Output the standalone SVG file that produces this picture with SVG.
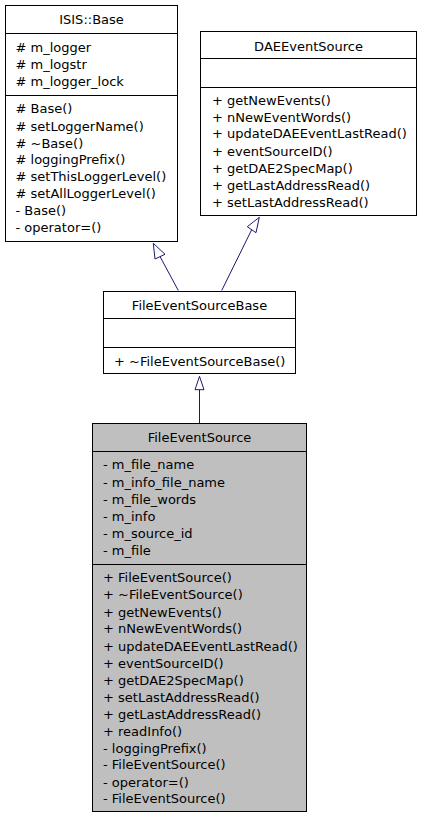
<svg xmlns="http://www.w3.org/2000/svg" width="422" height="819" viewBox="0 0 422 819">
<style>
.box{fill:#ffffff;stroke:#000000;stroke-width:1}
.cur{fill:#bfbfbf;stroke:#000000;stroke-width:1}
.sep{stroke:#000000;stroke-width:1}
text{font-family:"DejaVu Sans",sans-serif;font-size:13px;fill:#000000}
.t{text-anchor:middle}
.edge{stroke:#191970;stroke-width:1;fill:none}
.head{stroke:#191970;stroke-width:1;fill:#ffffff}
</style>
<rect width="422" height="819" fill="#ffffff"/>
<g id="connectors">
<path class="edge" d="M178.3,290.5 L160,256.5"/>
<polygon class="head" points="153.3,243.3 155,259 165,254.3"/>
<path class="edge" d="M221.7,290.5 L251.7,229.7"/>
<polygon class="head" points="259.3,217.3 247.3,226.7 256,232.7"/>
<path class="edge" d="M199.5,423 L199.5,389.7"/>
<polygon class="head" points="199.5,376.3 195,389.7 204,389.7"/>
</g>
<g id="node-isis-base">
<rect class="box" x="5.5" y="5.5" width="172" height="236"/>
<line class="sep" x1="5.5" y1="33.5" x2="177.5" y2="33.5"/>
<line class="sep" x1="5.5" y1="95.5" x2="177.5" y2="95.5"/>
<text class="t" x="91.5" y="24">ISIS::Base</text>
<text x="15.5" y="52">#&#160;m_logger</text>
<text x="15.5" y="69">#&#160;m_logstr</text>
<text x="15.5" y="86">#&#160;m_logger_lock</text>
<text x="15.5" y="113">#&#160;Base()</text>
<text x="15.5" y="131">#&#160;setLoggerName()</text>
<text x="15.5" y="148">#&#160;~Base()</text>
<text x="15.5" y="164">#&#160;loggingPrefix()</text>
<text x="15.5" y="181">#&#160;setThisLoggerLevel()</text>
<text x="15.5" y="198">#&#160;setAllLoggerLevel()</text>
<text x="15.5" y="215">-&#160;Base()</text>
<text x="15.5" y="232">-&#160;operator=()</text>
</g>
<g id="node-dae-event-source">
<rect class="box" x="200.5" y="31.5" width="216" height="184"/>
<line class="sep" x1="200.5" y1="58.5" x2="416.5" y2="58.5"/>
<line class="sep" x1="200.5" y1="87.5" x2="416.5" y2="87.5"/>
<text class="t" x="308.5" y="51">DAEEventSource</text>
<text x="212" y="105">+&#160;getNewEvents()</text>
<text x="212" y="122">+&#160;nNewEventWords()</text>
<text x="212" y="138">+&#160;updateDAEEventLastRead()</text>
<text x="212" y="156">+&#160;eventSourceID()</text>
<text x="212" y="173">+&#160;getDAE2SpecMap()</text>
<text x="212" y="190">+&#160;getLastAddressRead()</text>
<text x="212" y="207">+&#160;setLastAddressRead()</text>
</g>
<g id="node-file-event-source-base">
<rect class="box" x="103.5" y="291.5" width="192" height="82"/>
<line class="sep" x1="103.5" y1="318.5" x2="295.5" y2="318.5"/>
<line class="sep" x1="103.5" y1="347.5" x2="295.5" y2="347.5"/>
<text class="t" x="199.5" y="310">FileEventSourceBase</text>
<text x="114" y="366">+&#160;~FileEventSourceBase()</text>
</g>
<g id="node-file-event-source">
<rect class="cur" x="92.5" y="423.5" width="214" height="388"/>
<line class="sep" x1="92.5" y1="451.5" x2="306.5" y2="451.5"/>
<line class="sep" x1="92.5" y1="564.5" x2="306.5" y2="564.5"/>
<text class="t" x="199.5" y="442">FileEventSource</text>
<text x="103" y="469">-&#160;m_file_name</text>
<text x="103" y="487">-&#160;m_info_file_name</text>
<text x="103" y="504">-&#160;m_file_words</text>
<text x="103" y="521">-&#160;m_info</text>
<text x="103" y="538">-&#160;m_source_id</text>
<text x="103" y="555">-&#160;m_file</text>
<text x="103" y="582">+&#160;FileEventSource()</text>
<text x="103" y="599">+&#160;~FileEventSource()</text>
<text x="103" y="617">+&#160;getNewEvents()</text>
<text x="103" y="633">+&#160;nNewEventWords()</text>
<text x="103" y="651">+&#160;updateDAEEventLastRead()</text>
<text x="103" y="668">+&#160;eventSourceID()</text>
<text x="103" y="685">+&#160;getDAE2SpecMap()</text>
<text x="103" y="702">+&#160;setLastAddressRead()</text>
<text x="103" y="719">+&#160;getLastAddressRead()</text>
<text x="103" y="736">+&#160;readInfo()</text>
<text x="103" y="753">-&#160;loggingPrefix()</text>
<text x="103" y="769">-&#160;FileEventSource()</text>
<text x="103" y="787">-&#160;operator=()</text>
<text x="103" y="803">-&#160;FileEventSource()</text>
</g>
</svg>
